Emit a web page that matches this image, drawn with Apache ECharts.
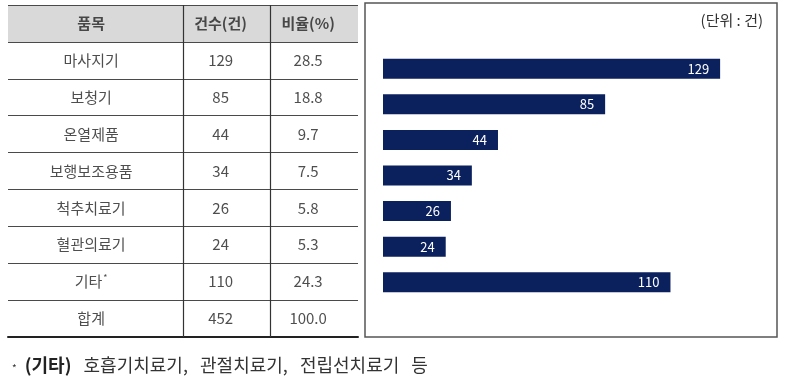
<!DOCTYPE html>
<html>
<head>
<meta charset="utf-8">
<script src="https://cdn.jsdelivr.net/npm/echarts@6/dist/echarts.min.js"></script>
<style>
  html, body { margin: 0; padding: 0; background: #fff; }
  #main { width: 786px; height: 377px; }
</style>
</head>
<body>
<div id="main"></div>
<script>
  // 품목별 접수 건수
  var items = ['마사지기', '보청기', '온열제품', '보행보조용품', '척추치료기', '혈관의료기', '기타'];
  var counts = [129, 85, 44, 34, 26, 24, 110];
  var ratios = [28.5, 18.8, 9.7, 7.5, 5.8, 5.3, 24.3];
  var totalLabel = '합계';
  var totalCount = 452;
  var totalRatio = 100.0;
  var headers = ['품목', '건수(건)', '비율(%)'];
  var unitText = '(단위 : 건)';
  var noteTitle = '(기타)';
  var noteText = '호흡기치료기,   관절치료기,   전립선치료기   등';

  // 표 열 위치 (x축 0~4 기준)
  var colEdges = [2, 3];
  var colCenters = [0.95, 2.43, 3.43];

  var rows = ['header'].concat(items, [totalLabel]);
  var rowColors = rows.map(function (r, i) { return i === 0 ? '#d9d9d9' : '#ffffff'; });

  // 셀 텍스트
  var cells = [
    [headers[0]].concat(items.map(function (n) { return n === '기타' ? '기타{s|*}' : n; }), [totalLabel]),
    [headers[1]].concat(counts.map(String), [String(totalCount)]),
    [headers[2]].concat(ratios.map(function (v) { return v.toFixed(1); }), [totalRatio.toFixed(1)])
  ];

  var tableSeries = cells.map(function (col, c) {
    return {
      type: 'scatter',
      xAxisIndex: 0,
      yAxisIndex: 0,
      symbolSize: 0,
      silent: true,
      data: col.map(function (txt, r) {
        var item = { value: [colCenters[c], rows[r]], name: txt };
        if (r === 0) item.label = { fontWeight: 'bold' };
        return item;
      }),
      label: {
        show: true,
        position: 'inside',
        color: '#222',
        fontSize: 15,
        formatter: function (p) { return p.name; },
        rich: {
          s: { fontSize: 9, padding: [0, 0, 9, 1], color: '#222' }
        }
      },
      markLine: c === 0 ? {
        symbol: 'none',
        silent: true,
        label: { show: false },
        lineStyle: { color: '#333', type: 'solid', width: 1.2 },
        data: colEdges.map(function (x) { return { xAxis: x }; })
      } : undefined
    };
  });

  var myChart = echarts.init(document.getElementById('main'));
  var option = {
    animation: false,
    textStyle: { fontFamily: 'Noto Sans CJK KR' },
    title: [
      {
        text: unitText,
        right: 18,
        top: 8,
        textStyle: { fontSize: 15, fontWeight: 'normal', color: '#333' }
      },
      {
        text: '{a|*}  {b|' + noteTitle + '}   ' + noteText,
        left: 7,
        top: 351,
        textStyle: {
          fontSize: 18,
          fontWeight: 'normal',
          color: '#333',
          rich: {
            a: { fontSize: 10, color: '#333', padding: [6, 0, 0, 0] },
            b: { fontSize: 18, fontWeight: 'bold', color: '#222' }
          }
        }
      }
    ],
    graphic: [
      {
        type: 'rect',
        shape: { x: 365, y: 3, width: 412, height: 334 },
        style: { fill: 'none', stroke: '#555', lineWidth: 1.5 },
        z: -1
      }
    ],
    grid: [
      { left: 8, right: 428, top: 5, bottom: 40 },
      { left: 383, right: 11, top: 51, bottom: 77 }
    ],
    xAxis: [
      {
        type: 'value',
        gridIndex: 0,
        min: 0,
        max: 4,
        axisLine: { show: true, onZero: false, lineStyle: { color: '#222', width: 2 } },
        axisTick: { show: false },
        axisLabel: { show: false },
        splitLine: { show: false }
      },
      {
        type: 'value',
        gridIndex: 1,
        min: 0,
        max: 150,
        show: false
      }
    ],
    yAxis: [
      {
        type: 'category',
        gridIndex: 0,
        data: rows,
        inverse: true,
        axisLine: { show: false },
        axisTick: { show: false },
        axisLabel: { show: false },
        splitLine: { show: true, lineStyle: { color: '#4a4a4a', width: 1.2 } },
        splitArea: { show: true, areaStyle: { color: rowColors } }
      },
      {
        type: 'category',
        gridIndex: 1,
        data: items,
        inverse: true,
        show: false
      }
    ],
    series: tableSeries.concat([
      {
        name: '건수',
        type: 'bar',
        xAxisIndex: 1,
        yAxisIndex: 1,
        barWidth: 20,
        data: counts,
        itemStyle: { color: '#0b215e' },
        label: {
          show: true,
          position: 'insideRight',
          distance: 11,
          color: '#fff',
          fontSize: 13
        }
      }
    ])
  };
  myChart.setOption(option);
</script>
</body>
</html>
